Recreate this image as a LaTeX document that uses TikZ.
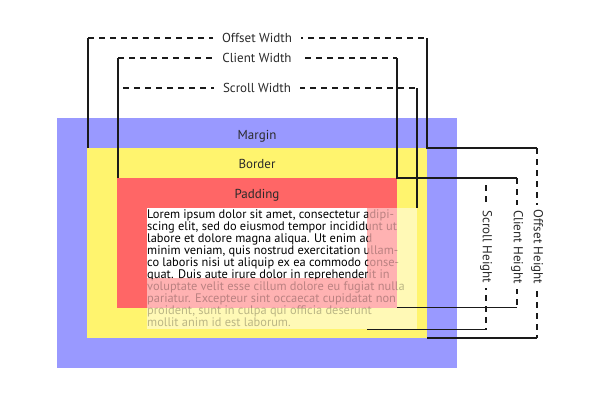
\documentclass[tikz,border=0pt]{standalone}
\usepackage{fontspec}
\setmainfont{PT Sans}
\definecolor{marginblue}{HTML}{9999FF}
\definecolor{borderyellow}{HTML}{FFF46E}
\definecolor{paddingred}{HTML}{FF6666}
\definecolor{linedark}{HTML}{1A1A1A}
\definecolor{labeltext}{HTML}{2A2A2A}
\begin{document}
\begin{tikzpicture}[x=1pt,y=-1pt,
  box/.style={inner sep=0pt, outer sep=0pt, anchor=north west},
  lbl/.style={font=\fontsize{13}{13}\selectfont, text=labeltext, inner sep=0pt, anchor=base},
  solidline/.style={draw=linedark, line width=1.1pt},
  dashline/.style={draw=linedark, line width=1.1pt, dash pattern=on 6pt off 5pt},
  dimlabel/.style={font=\fontsize{13}{13}\selectfont, text=labeltext, fill=white, inner xsep=9pt, inner ysep=2pt},
  vdimlabel/.style={dimlabel, rotate=-90, inner xsep=5pt},
  loremtext/.style={anchor=base west, inner sep=0pt},
]
\useasboundingbox (0,0) rectangle (600,400);
% boxes
\node[box, fill=marginblue, minimum width=400pt, minimum height=250pt] (margin) at (57,118) {};
\node[box, fill=borderyellow, minimum width=340pt, minimum height=190pt] (border) at (87,148) {};
\node[box, fill=paddingred, minimum width=280pt, minimum height=130pt] (padding) at (117,178) {};
\node[lbl] (marginlabel) at (257,139) {Margin};
\node[lbl] (borderlabel) at (257,168.5) {Border};
\node[lbl] (paddinglabel) at (257,198.5) {Padding};
% scroll area
\node[box, fill=white, fill opacity=0.5, minimum width=270pt, minimum height=121pt] (scroll) at (147,208) {};
\newcommand{\loremlines}{\parbox[t]{330pt}{\fontsize{12.4}{12}\selectfont\raggedright
Lorem ipsum dolor sit amet, consectetur adipi-\\
scing elit, sed do eiusmod tempor incididunt ut\\
labore et dolore magna aliqua. Ut enim ad\\
minim veniam, quis nostrud exercitation ullam-\\
co laboris nisi ut aliquip ex ea commodo conse-\\
quat. Duis aute irure dolor in reprehenderit in\\
voluptate velit esse cillum dolore eu fugiat nulla\\
pariatur. Excepteur sint occaecat cupidatat non\\
proident, sunt in culpa qui officia deserunt\\
mollit anim id est laborum.}}
\node[loremtext, opacity=0.27] (loremfaded) at (147,218) {\loremlines};
\node[box, fill=white, minimum width=220pt, minimum height=70pt] (content) at (147,208) {};
\begin{scope}
  \clip (content.north west) rectangle (content.south east);
  \node[loremtext] (lorem) at (147,218) {\loremlines};
\end{scope}
% coordinates
\coordinate (owTL) at (88,38);  \coordinate (owTR) at (427,38);
\coordinate (owBL) at (88,148); \coordinate (owBR) at (427,148);
\coordinate (ohT) at (537,148); \coordinate (ohB) at (537,338); \coordinate (ohBL) at (427,338);
\coordinate (cwTL) at (118,58); \coordinate (cwTR) at (397,58);
\coordinate (cwBL) at (118,178); \coordinate (cwBR) at (397,178);
\coordinate (chT) at (517,178); \coordinate (chB) at (517,307.5); \coordinate (chBL) at (397,307.5);
\coordinate (swL) at (123,88); \coordinate (swR) at (417,88); \coordinate (swB) at (417,208);
\coordinate (shT) at (486,185); \coordinate (shB) at (486,329.5); \coordinate (shBL) at (367,329.5);
% offset
\draw[solidline] (owBL) -- (owTL);
\draw[dashline] (owTL) -- (owTR);
\draw[solidline] (owTR) -- (owBR) -- (ohT);
\draw[dashline] (ohT) -- (ohB);
\draw[solidline] (ohB) -- (ohBL);
% client
\draw[solidline] (cwBL) -- (cwTL);
\draw[dashline] (cwTL) -- (cwTR);
\draw[solidline] (cwTR) -- (cwBR) -- (chT);
\draw[dashline] (chT) -- (chB);
\draw[solidline] (chB) -- (chBL);
% scroll
\draw[dashline] (swL) -- (swR);
\draw[solidline] (swR) -- (swB);
\draw[dashline] (shT) -- (shB);
\draw[solidline] (shB) -- (shBL);
% labels
\node[dimlabel] (owlabel) at (257,38) {Offset Width};
\node[dimlabel] (cwlabel) at (257,58) {Client Width};
\node[dimlabel] (swlabel) at (257,88) {Scroll Width};
\node[vdimlabel] (ohlabel) at (537,247) {Offset Height};
\node[vdimlabel] (chlabel) at (517,247) {Client Height};
\node[vdimlabel] (shlabel) at (486,247) {Scroll Height};
\end{tikzpicture}
\end{document}
